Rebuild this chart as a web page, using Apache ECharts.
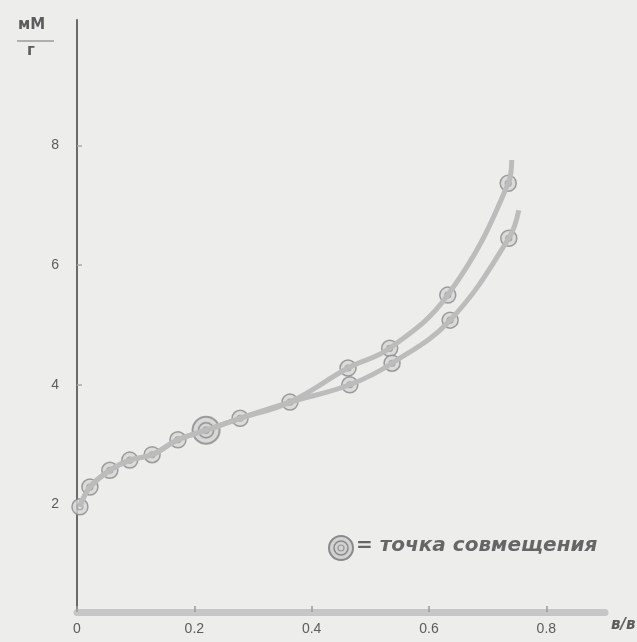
<!DOCTYPE html>
<html lang="ru">
<head>
    <meta charset="UTF-8">
    <title>мМ/г</title>
    <script src="https://cdn.jsdelivr.net/npm/echarts@6/dist/echarts.min.js"></script>
    <style>
        html, body { margin: 0; padding: 0; background: #ededeb; }
        #chart { width: 637px; height: 642px; }
    </style>
</head>
<body>
<div id="chart"></div>
<script>
    // common part of both curves
    var commonX = [0.005, 0.022, 0.056, 0.090, 0.128, 0.172, 0.220, 0.278, 0.363];
    var commonY = [1.96, 2.29, 2.57, 2.74, 2.83, 3.08, 3.24, 3.44, 3.71];
    // upper branch
    var upperX = [0.462, 0.533, 0.632, 0.735];
    var upperY = [4.28, 4.61, 5.50, 7.37];
    var upperTip = [0.741, 7.76];
    // lower branch
    var lowerX = [0.465, 0.537, 0.636, 0.736];
    var lowerY = [4.00, 4.36, 5.08, 6.45];
    var lowerTip = [0.753, 6.92];
    // coincidence point
    var coincX = [0.220];
    var coincY = [3.24];

    var xTicks = [0, 0.2, 0.4, 0.6, 0.8];
    var yTicks = [2, 4, 6, 8];

    function pairs(xs, ys) {
        return xs.map(function (x, i) { return [x, ys[i]]; });
    }

    var common = pairs(commonX, commonY);
    var upper = pairs(upperX, upperY);
    var lower = pairs(lowerX, lowerY);
    var allPoints = common.concat(upper, lower);
    var coinc = pairs(coincX, coincY);

    var textColor = '#5c5c5c';
    var lineStyle = { color: '#bcbcbc', width: 5 };

    var myChart = echarts.init(document.getElementById('chart'));
    var option = {
        backgroundColor: '#ededeb',
        animation: false,
        grid: { left: 77, right: 32, top: 20, bottom: 30 },
        xAxis: {
            type: 'value',
            min: 0,
            max: 0.9,
            splitLine: { show: false },
            axisLine: { lineStyle: { color: '#c6c6c6', width: 7 } },
            axisTick: { customValues: xTicks, inside: true, length: 6, lineStyle: { color: '#9a9a9a', width: 1.5 } },
            axisLabel: {
                customValues: xTicks,
                color: textColor,
                fontSize: 14,
                margin: 10,
                formatter: function (v) { return v === 0 ? '0' : v.toFixed(1); }
            }
        },
        yAxis: {
            type: 'value',
            min: 0.2,
            max: 10.1,
            splitLine: { show: false },
            axisLine: { lineStyle: { color: '#6a6a6a', width: 2 } },
            axisTick: { customValues: yTicks, inside: true, length: 5, lineStyle: { color: '#aaaaaa', width: 1.5 } },
            axisLabel: { customValues: yTicks, color: textColor, fontSize: 14, margin: 18 }
        },
        series: [
            {
                type: 'line',
                smooth: 0.4,
                showSymbol: false,
                lineStyle: lineStyle,
                data: common.concat(upper, [upperTip])
            },
            {
                type: 'line',
                smooth: 0.4,
                showSymbol: false,
                lineStyle: lineStyle,
                data: common.concat(lower, [lowerTip])
            },
            {
                type: 'scatter',
                symbolSize: 16,
                itemStyle: { color: '#d6d6d6', borderColor: '#888888', borderWidth: 1.5 },
                data: allPoints
            },
            {
                type: 'scatter',
                symbolSize: 6,
                itemStyle: { color: 'transparent', borderColor: '#999999', borderWidth: 1.2 },
                data: allPoints
            },
            {
                type: 'scatter',
                symbolSize: 27,
                itemStyle: { color: '#d2d2d2', borderColor: '#8a8a8a', borderWidth: 2 },
                data: coinc
            },
            {
                type: 'scatter',
                symbolSize: 15,
                itemStyle: { color: 'transparent', borderColor: '#8a8a8a', borderWidth: 1.5 },
                data: coinc
            },
            {
                type: 'scatter',
                symbolSize: 6,
                itemStyle: { color: 'transparent', borderColor: '#999999', borderWidth: 1.2 },
                data: coinc
            }
        ],
        graphic: [
            // y axis name: мМ over г
            { type: 'text', left: 18, top: 18, style: { text: 'мМ', fill: textColor, font: 'bold 15px "DejaVu Sans"' } },
            { type: 'line', shape: { x1: 17, y1: 41, x2: 54, y2: 41 }, style: { stroke: '#9a9a9a', lineWidth: 1.5 } },
            { type: 'text', left: 27, top: 44, style: { text: 'г', fill: textColor, font: 'bold 15px "DejaVu Sans"' } },
            // x axis name
            { type: 'text', left: 611, top: 618, style: { text: 'в/в', fill: textColor, font: 'italic bold 15px "DejaVu Sans"' } },
            // legend
            { type: 'circle', shape: { cx: 341, cy: 548, r: 12 }, style: { fill: '#d2d2d2', stroke: '#8a8a8a', lineWidth: 2 } },
            { type: 'circle', shape: { cx: 341, cy: 548, r: 7 }, style: { fill: 'none', stroke: '#8a8a8a', lineWidth: 1.5 } },
            { type: 'circle', shape: { cx: 341, cy: 548, r: 3 }, style: { fill: 'none', stroke: '#999999', lineWidth: 1.2 } },
            { type: 'text', left: 356, top: 536, style: { text: '= точка совмещения', fill: '#666666', font: 'italic bold 20px "DejaVu Sans"' } }
        ]
    };
    myChart.setOption(option);
</script>
</body>
</html>
